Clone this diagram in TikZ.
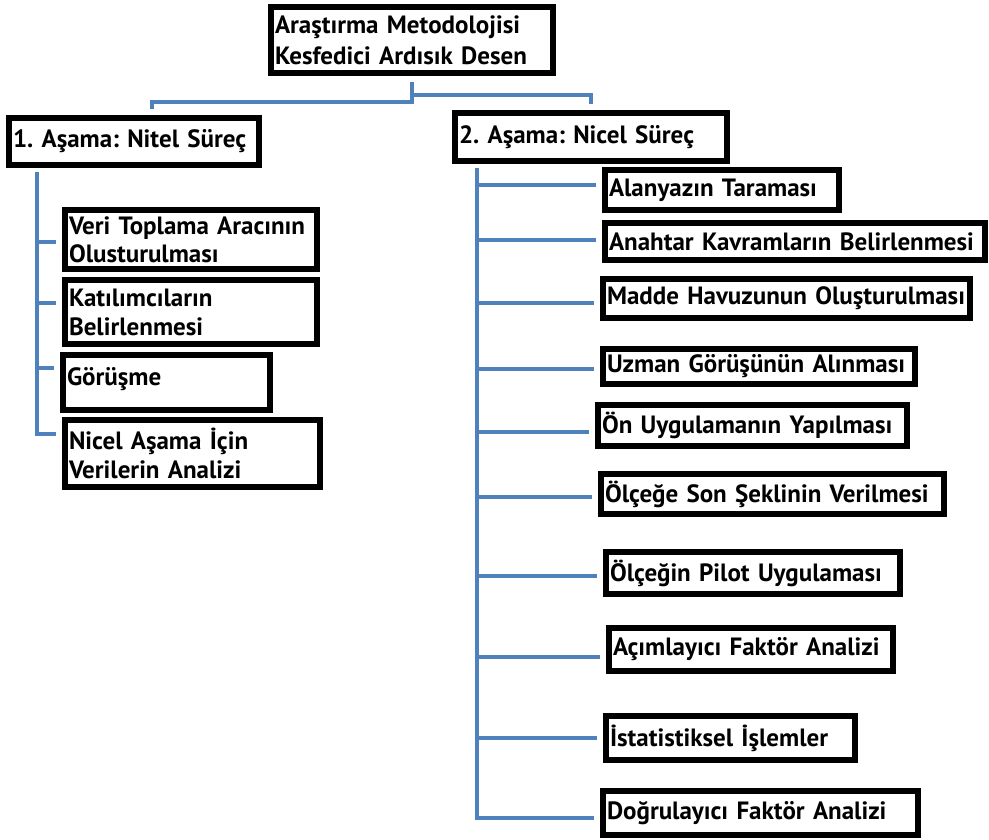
\documentclass[tikz,border=0pt]{standalone}
\usepackage{fontspec}
\setmainfont{PT Sans}
\usetikzlibrary{positioning, calc}
\definecolor{linkblue}{RGB}{79,129,189}
\frenchspacing
\tikzstyle{stagebox} = [
    rectangle,
    draw=black,
    line width=6pt,
    fill=white,
    align=left,
    inner xsep=4pt,
    inner ysep=0pt,
    font=\fontsize{25}{29}\selectfont\bfseries
]
\tikzstyle{branch} = [
    draw=linkblue,
    line width=4pt,
    shorten <=4pt,
    shorten >=6pt
]
\tikzset{
    boxdim/.style 2 args={
        minimum width=#1pt,
        minimum height=#2pt,
        /utils/exec={\pgfmathsetlengthmacro\boxtw{#1pt-8pt}},
        text width=\boxtw
    }
}

\begin{document}
\begin{tikzpicture}[x=1pt, y=-1pt]
        \useasboundingbox (0,0) rectangle (989,839);

        % Method (top)
        \node[stagebox, boxdim={282}{66}, font=\fontsize{25}{31}\selectfont\bfseries] (method) at (412,40) {Araştırma Metodolojisi\\Kesfedici Ardısık Desen};

        % Phases
        \node[stagebox, boxdim={250}{47}] (nitel) at (134,141.5) {1. Aşama: Nitel Süreç};
        \node[stagebox, boxdim={272}{48}] (nicel) at (591,137) {2. Aşama: Nicel Süreç};

        % Qualitative steps (left)
        \node[stagebox, boxdim={252}{59}, font=\fontsize{25}{28}\selectfont\bfseries] (veri) at (191,239.5) {Veri Toplama Aracının\\Olusturulması};
        \node[stagebox, boxdim={252}{64}] (katilim) at (191,312) {Katılımcıların\\Belirlenmesi};
        \node[stagebox, boxdim={207}{55}, text depth=12pt] (gorusme) at (166.5,382.5) {Görüşme};
        \node[stagebox, boxdim={255}{67}] (analiz) at (192.5,453.5) {Nicel Aşama İçin\\Verilerin Analizi};

        % Quantitative steps (right)
        \node[stagebox, boxdim={234}{40}] (alanyazin) at (722,190) {Alanyazın Taraması};
        \node[stagebox, boxdim={380}{37}] (anahtar) at (795,241.5) {Anahtar Kavramların Belirlenmesi};
        \node[stagebox, boxdim={367}{39}] (madde) at (786.5,298.5) {Madde Havuzunun Oluşturulması};
        \node[stagebox, boxdim={312}{35}] (uzman) at (759,366.5) {Uzman Görüşünün Alınması};
        \node[stagebox, boxdim={309}{41}] (onuyg) at (752.5,425.5) {Ön Uygulamanın Yapılması};
        \node[stagebox, boxdim={343}{40}] (sonsekil) at (772.5,494) {Ölçeğe Son Şeklinin Verilmesi};
        \node[stagebox, boxdim={294}{42}] (pilot) at (753,573) {Ölçeğin Pilot Uygulaması};
        \node[stagebox, boxdim={284}{43}] (afa) at (751,649.5) {Açımlayıcı Faktör Analizi};
        \node[stagebox, boxdim={249}{44}] (istat) at (730.5,738) {İstatistiksel İşlemler};
        \node[stagebox, boxdim={315}{44}] (dfa) at (760.5,813) {Doğrulayıcı Faktör Analizi};

        % Method to phases
        \draw[branch, shorten <=6pt] (method.south) -- ++(0,26) -| ([xshift=18pt]nitel.north);
        \draw[branch, shorten <=6pt] (method.south) -- ++(0,19) -| (nicel.north);

        % Left tree
        \draw[branch] ([xshift=31pt]nitel.south west) |- ([yshift=-2pt]veri.west);
        \draw[branch] ([xshift=31pt]nitel.south west) |- ([yshift=9pt]katilim.west);
        \draw[branch] ([xshift=31pt]nitel.south west) |- ([yshift=15pt]gorusme.west);
        \draw[branch] ([xshift=31pt]nitel.south west) |- ([yshift=20pt]analiz.west);

        % Right tree
        \draw[branch] ([xshift=25pt]nicel.south west) |- ([yshift=5pt]alanyazin.west);
        \draw[branch] ([xshift=25pt]nicel.south west) |- ([yshift=2pt]anahtar.west);
        \draw[branch] ([xshift=25pt]nicel.south west) |- ([yshift=-4pt]madde.west);
        \draw[branch] ([xshift=25pt]nicel.south west) |- ([yshift=-2pt]uzman.west);
        \draw[branch] ([xshift=25pt]nicel.south west) |- ([yshift=-6pt]onuyg.west);
        \draw[branch] ([xshift=25pt]nicel.south west) |- ([yshift=-3pt]sonsekil.west);
        \draw[branch] ([xshift=25pt]nicel.south west) |- ([yshift=-3pt]pilot.west);
        \draw[branch] ([xshift=25pt]nicel.south west) |- ([yshift=-7pt]afa.west);
        \draw[branch] ([xshift=25pt]nicel.south west) |- (istat.west);
        \draw[branch] ([xshift=25pt]nicel.south west) |- ([yshift=-5pt]dfa.west);
    \end{tikzpicture}
\end{document}
